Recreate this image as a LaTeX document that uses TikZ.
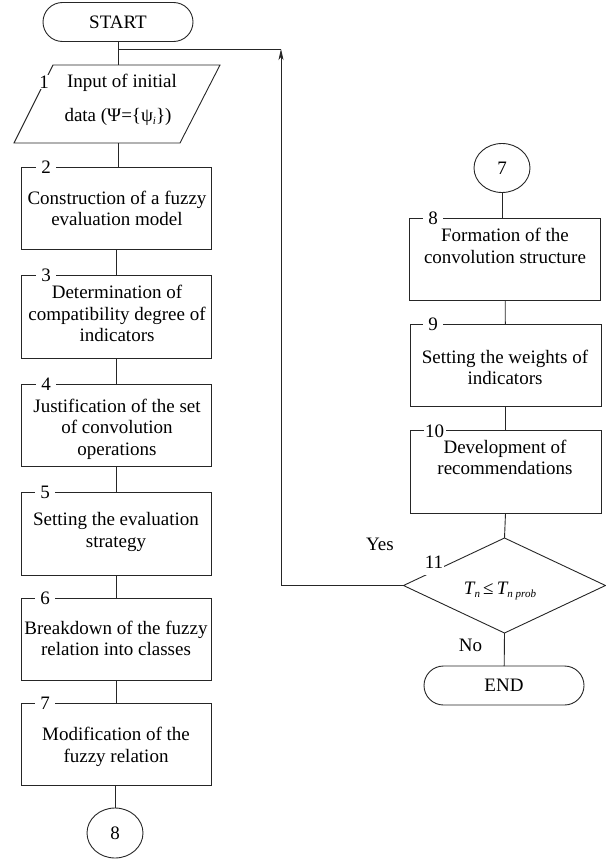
\documentclass[tikz,border=0pt]{standalone}
\usepackage{fontspec}
\setmainfont{LiberationSerif}[Extension=.ttf,UprightFont=*-Regular,ItalicFont=*-Italic,BoldFont=*-Bold,BoldItalicFont=*-BoldItalic]
\usetikzlibrary{shapes.geometric,arrows.meta,calc}
\newcommand{\lowsub}[1]{\raisebox{-0.35ex}{\fontsize{11}{11}\selectfont\itshape #1}}
\begin{document}
\begin{tikzpicture}[x=1pt,y=-1pt,
  every node/.style={font=\fontsize{19}{21.5}\selectfont, inner sep=0pt, outer sep=0pt},
  ln/.style={draw=black!85, line width=0.9pt},
  procbox/.style={ln, rectangle, minimum width=190pt, minimum height=82.5pt},
  numlbl/.style={fill=white, inner xsep=5pt, inner ysep=1pt},
  term/.style={ln, rectangle, rounded corners=19.5pt, minimum height=39pt},
  conn/.style={ln, ellipse, minimum width=56pt, minimum height=50pt},
  txt/.style={align=center},
]
\useasboundingbox (0,0) rectangle (605,859);

% ---------- left column ----------
\node[term, minimum width=150pt] (start) at (118,22) {START};

\coordinate (ptop) at (118,65);
\coordinate (pbot) at (118,143);
\draw[ln] (53,65) -- (220,65) -- (180,143) -- (14,143) -- cycle;
\node (t1a) at (122,83) {Input of initial};
\node (t1b) at (118,117) {data (Ψ=\{ψ\lowsub{i}\})};
\node[numlbl, inner xsep=2pt] (n1) at (44,82) {1};

\node[procbox] (b2) at (116.5,208.5) {};
\node[procbox] (b3) at (116.5,317) {};
\node[procbox] (b4) at (116.5,425.5) {};
\node[procbox] (b5) at (116.5,534) {};
\node[procbox] (b6) at (116.5,639.5) {};
\node[procbox] (b7) at (116.5,744.5) {};
\node[conn] (c8) at (115,833) {8};

\node[txt] (t2) at (117,208.5) {Construction of a fuzzy\\evaluation model};
\node[txt] (t3) at (117,313.5) {Determination of\\compatibility degree of\\indicators};
\node[txt] (t4) at (117,429) {Justification of the set\\of convolution\\operations};
\node[txt] (t5) at (116,532) {Setting the evaluation\\strategy};
\node[txt] (t6) at (116,638.5) {Breakdown of the fuzzy\\relation into classes};
\node[txt] (t7) at (116,747) {Modification of the\\fuzzy relation};

\node[numlbl] (n2) at (46,167.25) {2};
\node[numlbl] (n3) at (46,275.75) {3};
\node[numlbl] (n4) at (46,384.25) {4};
\node[numlbl] (n5) at (45,492.75) {5};
\node[numlbl] (n6) at (45,598.25) {6};
\node[numlbl] (n7) at (45,703.25) {7};

% ---------- right column ----------
\node[conn, minimum height=49pt] (c7) at (502,168) {7};
\node[procbox, minimum width=191pt] (b8) at (505,259.5) {};
\node[procbox, minimum width=191pt] (b9) at (505.5,365.5) {};
\node[procbox, minimum width=191pt] (b10) at (505.5,472) {};
\node[ln, diamond, minimum width=202pt, minimum height=95pt] (d11) at (504.5,585.5) {};
\node[term, minimum width=160pt] (end) at (504,685.5) {END};

\node[txt] (t8) at (505,246) {Formation of the\\convolution structure};
\node[txt] (t9) at (505,367.5) {Setting the weights of\\indicators};
\node[txt] (t10) at (505,457.5) {Development of\\recommendations};
\node (t11) at (500,591) {\itshape T\lowsub{n}\,{\upshape ≤}\,T\lowsub{n prob}};

\node[numlbl] (n8) at (433,218) {8};
\node[numlbl] (n9) at (433,324) {9};
\node[numlbl, inner xsep=1.5pt] (n10) at (434.5,431) {10};
\node[numlbl, inner xsep=1pt, inner ysep=6pt] (n11) at (434,562.5) {11};

\node (yes) at (380,544) {Yes};
\node (no) at (470.5,645) {No};

% ---------- connectors ----------
\coordinate (junc) at (118,49);
\coordinate (corner) at (281,49);
\draw[ln] (start) -- (ptop);
\draw[ln] (junc) -- (corner);
\draw[ln, -{Stealth[length=11pt,width=5pt,inset=3pt]}] (d11.west) -| (corner);
\draw[ln] (pbot) -- (pbot |- b2.north);
\draw[ln] (b2) -- (b3);
\draw[ln] (b3) -- (b4);
\draw[ln] (b4) -- (b5);
\draw[ln] (b5) -- (b6);
\draw[ln] (b6) -- (b7);
\draw[ln] (c8 |- b7.south) -- (c8);

\draw[ln] (c7) -- (c7 |- b8.north);
\draw[ln] (b8) -- (b9);
\draw[ln] (b9) -- (b10);
\draw[ln] (b10.south) -- (d11.north);
\draw[ln] (d11.south) -- (end);
\end{tikzpicture}
\end{document}
